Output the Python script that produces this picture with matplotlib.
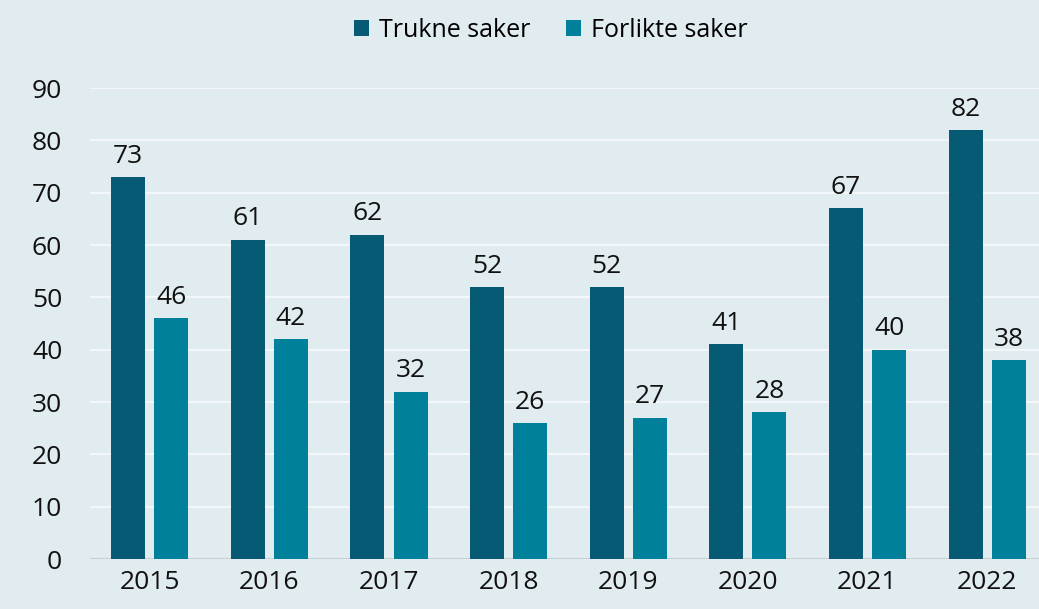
import numpy as np
import matplotlib.pyplot as plt

# Data
years = ["2015", "2016", "2017", "2018", "2019", "2020", "2021", "2022"]
trukne = [73, 61, 62, 52, 52, 41, 67, 82]
forlikte = [46, 42, 32, 26, 27, 28, 40, 38]

bg = "#E1ECF1"
c_dark = "#065A73"
c_light = "#00809A"

plt.rcParams['font.family'] = ['Open Sans', 'DejaVu Sans']

fig = plt.figure(figsize=(10.39, 6.09), dpi=100, facecolor=bg)
ax = fig.add_axes([0.0866, 0.0821, 0.921, 0.7734], facecolor=bg)

x = np.arange(len(years))
w = 0.284
off = 0.18
b1 = ax.bar(x - off, trukne, w, color=c_dark, label="Trukne saker", zorder=3)
b2 = ax.bar(x + off, forlikte, w, color=c_light, label="Forlikte saker", zorder=3)

for bars in (b1, b2):
    for r in bars:
        ax.annotate(f"{int(r.get_height())}", (r.get_x() + r.get_width() / 2, r.get_height()),
                    xytext=(0, 6), textcoords="offset points", ha="center", va="bottom",
                    fontsize=19, color="#111111")

ax.set_xlim(-0.5, len(years) - 0.5)
ax.set_ylim(0, 90)
ax.set_yticks(range(0, 91, 10))
ax.set_xticks(x)
ax.set_xticklabels(years)
ax.tick_params(length=0, labelsize=19, colors="#111111")
ax.tick_params(axis="y", pad=20)
ax.tick_params(axis="x", pad=8)
ax.grid(axis="y", color="#F4F7F9", linewidth=1.5, zorder=0)
ax.axhline(0, color="#C8D0D4", linewidth=1.5, zorder=2)
for s in ax.spines.values():
    s.set_visible(False)

fig.legend(loc="upper center", bbox_to_anchor=(0.53, 1.007), ncol=2, frameon=False,
           fontsize=18, handlelength=0.6, handleheight=0.6, handletextpad=0.4,
           columnspacing=1.4)

fig.savefig("out.png", dpi=100, facecolor=bg)
